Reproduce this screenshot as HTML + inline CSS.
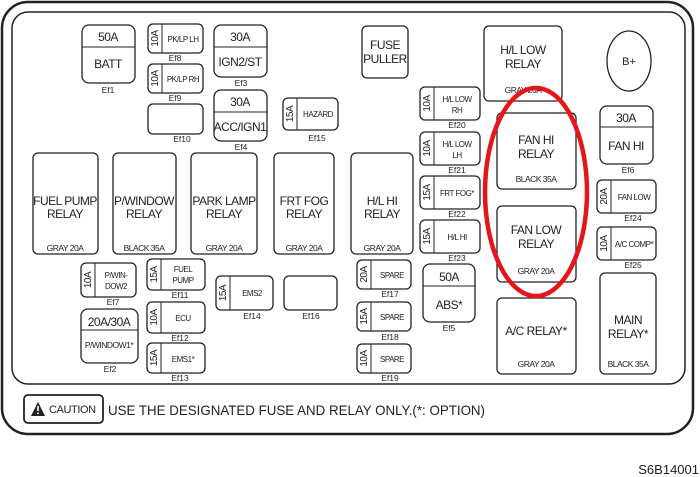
<!DOCTYPE html>
<html><head><meta charset="utf-8"><style>
html,body{margin:0;padding:0;background:#fff;}
svg{display:block;font-family:"Liberation Sans",sans-serif;}
.b{fill:#fff;stroke:#222;stroke-width:1.3;}
.t{fill:#222;text-anchor:middle;}
.r text{letter-spacing:-0.5px;}
</style></head><body>
<svg width="700" height="477" viewBox="0 0 700 477">
<rect x="2" y="2" width="691" height="432" rx="26" fill="none" stroke="#222" stroke-width="2.5"/>
<rect x="12" y="12" width="673" height="372" rx="16" fill="none" stroke="#222" stroke-width="1.5"/>

<g font-size="12" class="r">
<rect class="b" x="82" y="25" width="53" height="58" rx="7"/><line x1="82" y1="47" x2="135" y2="47" stroke="#222"/>
<text class="t" x="108" y="41">50A</text><text class="t" x="108" y="68">BATT</text>
<rect class="b" x="214" y="25" width="53" height="52" rx="7"/><line x1="214" y1="47" x2="267" y2="47" stroke="#222"/>
<text class="t" x="240" y="41">30A</text><text class="t" x="240" y="66">IGN2/ST</text>
<rect class="b" x="214" y="90" width="53" height="51" rx="7"/><line x1="214" y1="112" x2="267" y2="112" stroke="#222"/>
<text class="t" x="240" y="106">30A</text><text class="t" x="240" y="131">ACC/IGN1</text>
<rect class="b" x="423" y="264" width="52" height="58" rx="7"/><line x1="423" y1="286" x2="475" y2="286" stroke="#222"/>
<text class="t" x="449" y="281">50A</text><text class="t" x="449" y="309">ABS*</text>
<rect class="b" x="600" y="106" width="53" height="58" rx="7"/><line x1="600" y1="127" x2="653" y2="127" stroke="#222"/>
<text class="t" x="626" y="122">30A</text><text class="t" x="626" y="150">FAN HI</text>
<rect class="b" x="81" y="309" width="57" height="54" rx="7"/><line x1="81" y1="330" x2="138" y2="330" stroke="#222"/>
<text class="t" x="109" y="326">20A/30A</text>
<text class="t" x="109" y="348" font-size="8.5">P/WINDOW1*</text>
</g>

<g font-size="12" class="r">
<rect class="b" x="33" y="153" width="65" height="101" rx="5"/><text class="t" x="65" y="205">FUEL PUMP</text><text class="t" x="65" y="218">RELAY</text><text class="t" x="65" y="251" font-size="8.5">GRAY 20A</text>
<rect class="b" x="113" y="153" width="63" height="101" rx="5"/><text class="t" x="144" y="205">P/WINDOW</text><text class="t" x="144" y="218">RELAY</text><text class="t" x="144" y="251" font-size="8.5">BLACK 35A</text>
<rect class="b" x="191" y="153" width="66" height="101" rx="5"/><text class="t" x="224" y="205">PARK LAMP</text><text class="t" x="224" y="218">RELAY</text><text class="t" x="224" y="251" font-size="8.5">GRAY 20A</text>
<rect class="b" x="274" y="153" width="60" height="101" rx="5"/><text class="t" x="304" y="205">FRT FOG</text><text class="t" x="304" y="218">RELAY</text><text class="t" x="304" y="251" font-size="8.5">GRAY 20A</text>
<rect class="b" x="351" y="153" width="62" height="101" rx="5"/><text class="t" x="382" y="205">H/L HI</text><text class="t" x="382" y="218">RELAY</text><text class="t" x="382" y="251" font-size="8.5">GRAY 20A</text>
<rect class="b" x="484" y="26" width="78" height="75" rx="5"/><text class="t" x="523" y="54">H/L LOW</text><text class="t" x="523" y="68">RELAY</text><text class="t" x="523" y="93" font-size="8.5">GRAY 20A</text>
<rect class="b" x="497" y="113" width="79" height="76" rx="5"/><text class="t" x="536" y="144">FAN HI</text><text class="t" x="536" y="158">RELAY</text><text class="t" x="536" y="182" font-size="8.5">BLACK 35A</text>
<rect class="b" x="497" y="206" width="79" height="76" rx="5"/><text class="t" x="536" y="234">FAN LOW</text><text class="t" x="536" y="248">RELAY</text><text class="t" x="536" y="274" font-size="8.5">GRAY 20A</text>
<rect class="b" x="497" y="298" width="79" height="76" rx="5"/><text class="t" x="536" y="335">A/C RELAY*</text><text class="t" x="536" y="367" font-size="8.5">GRAY 20A</text>
<rect class="b" x="600" y="273" width="56" height="101" rx="5"/><text class="t" x="628" y="324">MAIN</text><text class="t" x="628" y="338">RELAY*</text><text class="t" x="628" y="367" font-size="8.5">BLACK 35A</text>
<rect class="b" x="362" y="26" width="46" height="52" rx="5"/><text class="t" x="385" y="49">FUSE</text><text class="t" x="385" y="63">PULLER</text>
</g>
<ellipse cx="629" cy="61" rx="22" ry="30" class="b"/>
<text class="t" x="629" y="65" font-size="11">B+</text>

<g font-size="8" class="r">
<g transform="translate(148,24)"><rect class="b" width="55" height="29" rx="5"/><line x1="14" y1="0" x2="14" y2="29" stroke="#222"/><text class="t" transform="translate(10,14.5) rotate(-90)" font-size="10">10A</text><text class="t" x="35" y="18">PK/LP LH</text></g>
<g transform="translate(148,64)"><rect class="b" width="55" height="29" rx="5"/><line x1="14" y1="0" x2="14" y2="29" stroke="#222"/><text class="t" transform="translate(10,14.5) rotate(-90)" font-size="10">10A</text><text class="t" x="35" y="18">PK/LP RH</text></g>
<rect class="b" x="148" y="104" width="55" height="30" rx="5"/>
<g transform="translate(283,98)"><rect class="b" width="55" height="32" rx="5"/><line x1="14" y1="0" x2="14" y2="32" stroke="#222"/><text class="t" transform="translate(10,16) rotate(-90)" font-size="10">15A</text><text class="t" x="35" y="19">HAZARD</text></g>
<g transform="translate(81,263)"><rect class="b" width="55" height="34" rx="5"/><line x1="14" y1="0" x2="14" y2="34" stroke="#222"/><text class="t" transform="translate(10,17) rotate(-90)" font-size="10">10A</text><text class="t" x="35" y="15">P/WIN-</text><text class="t" x="35" y="26">DOW2</text></g>
<g transform="translate(147,259)"><rect class="b" width="58" height="31" rx="5"/><line x1="14" y1="0" x2="14" y2="31" stroke="#222"/><text class="t" transform="translate(10,15.5) rotate(-90)" font-size="10">15A</text><text class="t" x="36" y="13">FUEL</text><text class="t" x="36" y="24">PUMP</text></g>
<g transform="translate(147,302)"><rect class="b" width="58" height="31" rx="5"/><line x1="14" y1="0" x2="14" y2="31" stroke="#222"/><text class="t" transform="translate(10,15.5) rotate(-90)" font-size="10">10A</text><text class="t" x="36" y="19">ECU</text></g>
<g transform="translate(147,343)"><rect class="b" width="58" height="30" rx="5"/><line x1="14" y1="0" x2="14" y2="30" stroke="#222"/><text class="t" transform="translate(10,15) rotate(-90)" font-size="10">15A</text><text class="t" x="36" y="19">EMS1*</text></g>
<g transform="translate(216,276)"><rect class="b" width="57" height="34" rx="5"/><line x1="14" y1="0" x2="14" y2="34" stroke="#222"/><text class="t" transform="translate(10,17) rotate(-90)" font-size="10">15A</text><text class="t" x="36" y="20">EMS2</text></g>
<rect class="b" x="284" y="276" width="53" height="34" rx="5"/>
<g transform="translate(420,87)"><rect class="b" width="60" height="33" rx="5"/><line x1="14" y1="0" x2="14" y2="33" stroke="#222"/><text class="t" transform="translate(10,16.5) rotate(-90)" font-size="10">10A</text><text class="t" x="37" y="15">H/L LOW</text><text class="t" x="37" y="26">RH</text></g>
<g transform="translate(420,132)"><rect class="b" width="60" height="33" rx="5"/><line x1="14" y1="0" x2="14" y2="33" stroke="#222"/><text class="t" transform="translate(10,16.5) rotate(-90)" font-size="10">10A</text><text class="t" x="37" y="15">H/L LOW</text><text class="t" x="37" y="26">LH</text></g>
<g transform="translate(420,176)"><rect class="b" width="60" height="33" rx="5"/><line x1="14" y1="0" x2="14" y2="33" stroke="#222"/><text class="t" transform="translate(10,16.5) rotate(-90)" font-size="10">15A</text><text class="t" x="37" y="20">FRT FOG*</text></g>
<g transform="translate(420,220)"><rect class="b" width="60" height="33" rx="5"/><line x1="14" y1="0" x2="14" y2="33" stroke="#222"/><text class="t" transform="translate(10,16.5) rotate(-90)" font-size="10">15A</text><text class="t" x="37" y="20">H/L HI</text></g>
<g transform="translate(597,180)"><rect class="b" width="59" height="33" rx="5"/><line x1="14" y1="0" x2="14" y2="33" stroke="#222"/><text class="t" transform="translate(10,16.5) rotate(-90)" font-size="10">20A</text><text class="t" x="37" y="20">FAN LOW</text></g>
<g transform="translate(597,227)"><rect class="b" width="59" height="33" rx="5"/><line x1="14" y1="0" x2="14" y2="33" stroke="#222"/><text class="t" transform="translate(10,16.5) rotate(-90)" font-size="10">10A</text><text class="t" x="37" y="20">A/C COMP*</text></g>
<g transform="translate(357,260)"><rect class="b" width="54" height="29" rx="5"/><line x1="14" y1="0" x2="14" y2="29" stroke="#222"/><text class="t" transform="translate(10,14.5) rotate(-90)" font-size="10">20A</text><text class="t" x="35" y="18">SPARE</text></g>
<g transform="translate(357,302)"><rect class="b" width="54" height="29" rx="5"/><line x1="14" y1="0" x2="14" y2="29" stroke="#222"/><text class="t" transform="translate(10,14.5) rotate(-90)" font-size="10">15A</text><text class="t" x="35" y="18">SPARE</text></g>
<g transform="translate(357,344)"><rect class="b" width="54" height="29" rx="5"/><line x1="14" y1="0" x2="14" y2="29" stroke="#222"/><text class="t" transform="translate(10,14.5) rotate(-90)" font-size="10">10A</text><text class="t" x="35" y="18">SPARE</text></g>
</g>

<g font-size="8.5">
<text class="t" x="108" y="93">Ef1</text><text class="t" x="175" y="61">Ef8</text><text class="t" x="175" y="101">Ef9</text><text class="t" x="182" y="142">Ef10</text>
<text class="t" x="241" y="86">Ef3</text><text class="t" x="241" y="150">Ef4</text><text class="t" x="317" y="141">Ef15</text>
<text class="t" x="113" y="305">Ef7</text><text class="t" x="110" y="372">Ef2</text><text class="t" x="180" y="298">Ef11</text><text class="t" x="180" y="341">Ef12</text><text class="t" x="180" y="381">Ef13</text>
<text class="t" x="252" y="319">Ef14</text><text class="t" x="311" y="319">Ef16</text>
<text class="t" x="457" y="128">Ef20</text><text class="t" x="457" y="173">Ef21</text><text class="t" x="457" y="217">Ef22</text><text class="t" x="457" y="261">Ef23</text>
<text class="t" x="628" y="173">Ef6</text><text class="t" x="633" y="221">Ef24</text><text class="t" x="633" y="268">Ef25</text>
<text class="t" x="390" y="297">Ef17</text><text class="t" x="390" y="340">Ef18</text><text class="t" x="390" y="381">Ef19</text><text class="t" x="449" y="331">Ef5</text>
</g>

<ellipse cx="536" cy="192" rx="51" ry="104" fill="none" stroke="#e8141c" stroke-width="4.5"/>

<rect x="24" y="395" width="79" height="28" rx="4" fill="#fff" stroke="#222" stroke-width="1.8"/>
<polygon points="31,416 38,402 45,416" fill="#222"/>
<rect x="37.2" y="406" width="1.6" height="5" fill="#fff"/><rect x="37.2" y="412.5" width="1.6" height="1.6" fill="#fff"/>
<text x="49" y="413" font-size="11" fill="#222" letter-spacing="-0.4">CAUTION</text>
<text x="108" y="415" font-size="14" fill="#222" textLength="377" lengthAdjust="spacingAndGlyphs">USE THE DESIGNATED FUSE AND RELAY ONLY.(*: OPTION)</text>
<text x="699" y="474" font-size="13" fill="#222" text-anchor="end">S6B14001</text>
</svg>
</body></html>
